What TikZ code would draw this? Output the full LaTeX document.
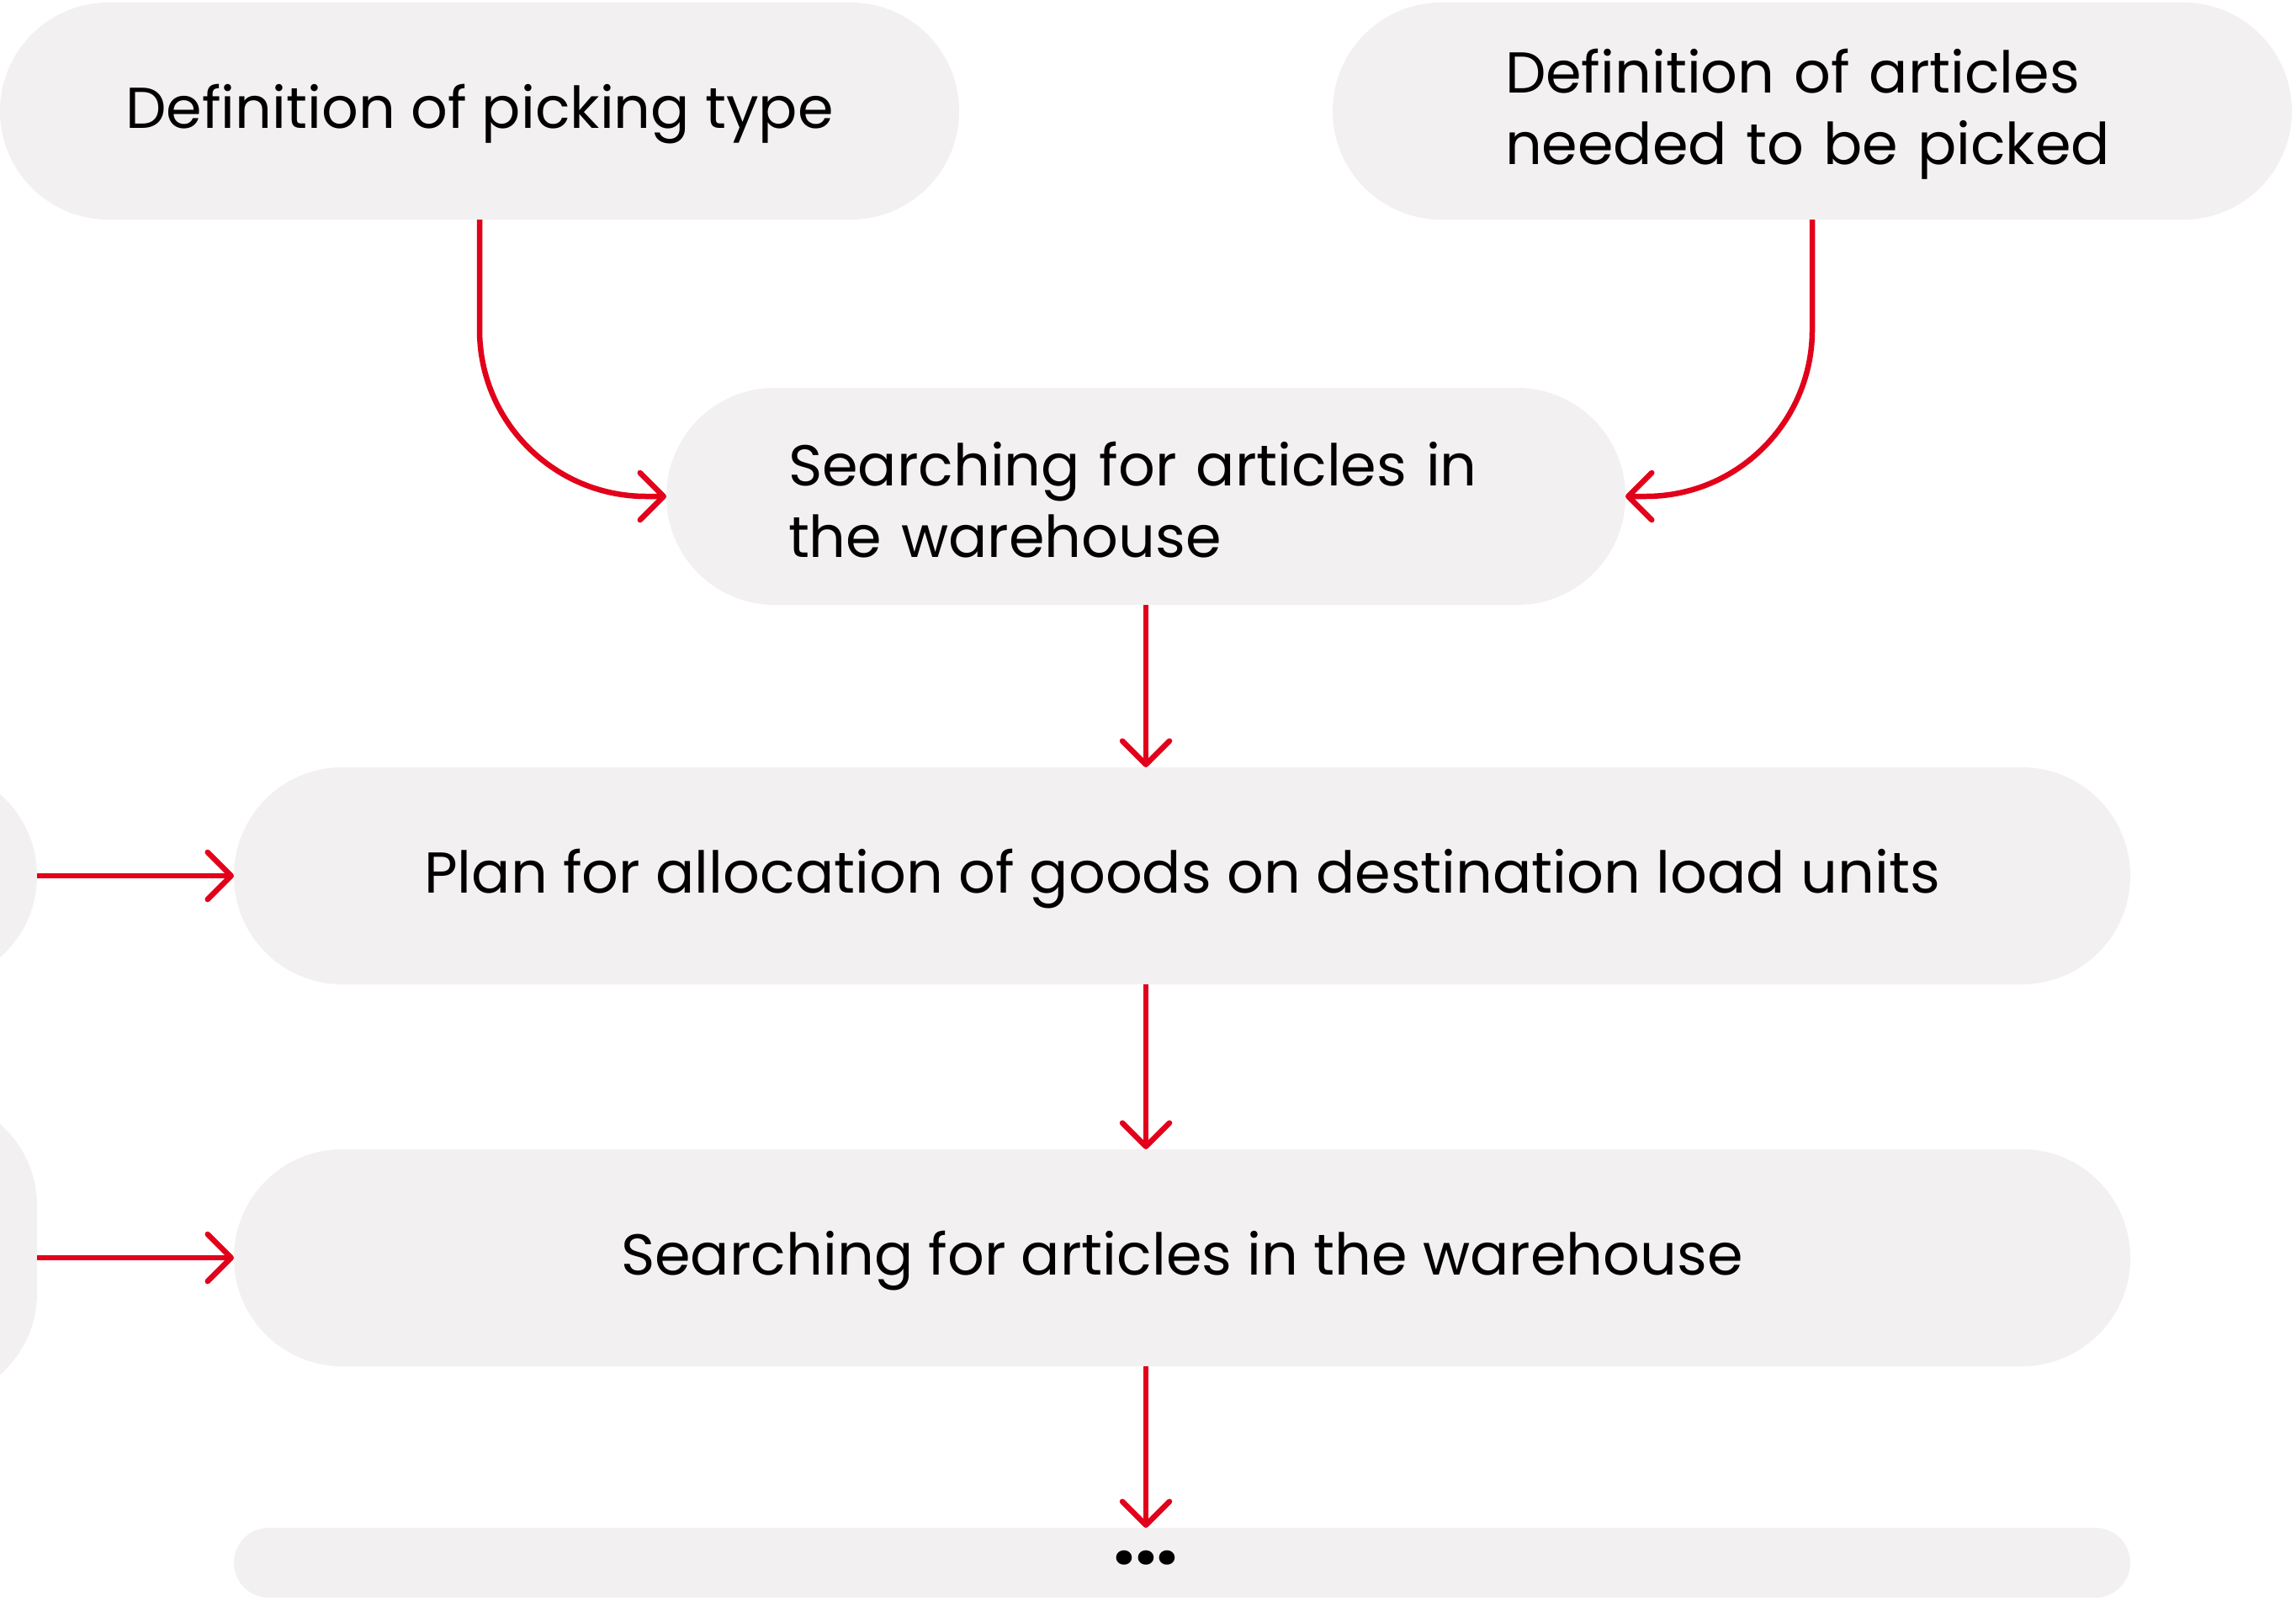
\documentclass[tikz,border=0pt]{standalone}
\usepackage{fontspec}
\setmainfont{Poppins}
\usepackage{tikz}
\usetikzlibrary{arrows.meta,positioning}
\definecolor{boxgray}{HTML}{F2F0F1}
\definecolor{arrowred}{HTML}{E2001A}

\begin{document}
\begin{tikzpicture}[->,>={Straight Barb[length=0.28cm,width=0.56cm,round]},line width=0.065cm,draw=arrowred,node distance=1.95cm,font=\fontsize{19.5}{24.2}\selectfont]
\tikzstyle{box}=[draw=none,fill=boxgray,text=black,rounded corners=1.29cm,minimum height=2.58cm,minimum width=11.4cm,inner sep=0pt,outer sep=0pt,text height=15pt,text depth=3.4pt]
\tikzstyle{wide}=[box,minimum width=22.54cm]
\tikzstyle{stub}=[draw=none,fill=boxgray,rounded corners=1.29cm,minimum width=4cm,outer sep=0pt,anchor=east]
\useasboundingbox (0,0) rectangle (27.29,-19.02);
\clip (0,0) rectangle (27.29,-19.02);
\node[box] (A) at (5.70,-1.32) {Definition of picking type};
\node[box,text width=7.3cm,align=left,text depth=27.5pt] (B) at (21.54,-1.32) {Definition of articles\\needed to be picked};
\node[box,text width=8.5cm,align=left,text depth=22.4pt] (C) at (13.62,-5.90) {Searching for articles in\\the warehouse};
\node[wide] (D) at (14.05,-10.41) {Plan for allocation of goods on destination load units};
\node[wide,below=1.96cm of D] (E) {Searching for articles in the warehouse};
\node[wide,below=1.92cm of E,minimum height=0.83cm,rounded corners=0.415cm,text height=0pt,text depth=0pt] (F) {};
\node[text=black,anchor=base,font=\bfseries\fontsize{26}{30}\selectfont] (dots) at (13.62,-18.59) {...};
% cut-off boxes on the left
\node[stub,minimum height=2.58cm] (L1) at (0.44,-10.41) {};
\node[stub,minimum height=3.62cm] (L2) at (0.44,-14.85) {};
\draw[rounded corners=1.98cm] (A.south) |- (C.west);
\draw[rounded corners=1.98cm] (B.south) |- (C.east);
\draw (C.south) -- (C.south |- D.north);
\draw (C.south |- D.south) -- (C.south |- E.north);
\draw (C.south |- E.south) -- (C.south |- F.north);
\draw (L1.east) -- (D.west);
\draw (L2.east |- E.west) -- (E.west);
\end{tikzpicture}
\end{document}
